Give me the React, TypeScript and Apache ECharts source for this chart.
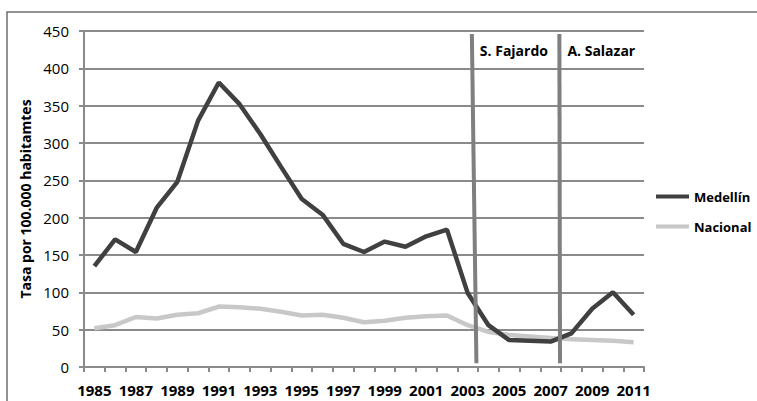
import React, { useEffect, useRef } from "react";
import * as echarts from "echarts";

const years = [
  "1985","1986","1987","1988","1989","1990","1991","1992","1993","1994",
  "1995","1996","1997","1998","1999","2000","2001","2002","2003","2004",
  "2005","2006","2007","2008","2009","2010","2011",
];
const medellin = [135,171,154,213,248,330,381,352,312,268,225,204,165,154,168,161,175,184,99,56,36,35,34,45,78,100,70];
const nacional = [52,56,67,65,70,72,81,80,78,74,69,70,66,60,62,66,68,69,56,47,43,41,39,37,36,35,33];
const yTicks = [0, 50, 100, 150, 200, 250, 300, 350, 400, 450];

// Start of mayoral terms (fractional year position on the time axis), line drawn from top to bottom
const terms = [
  { label: "S. Fajardo", yearTop: 2003.2, yearBottom: 2003.42, valueTop: 446, valueBottom: 5 },
  { label: "A. Salazar", yearTop: 2007.42, yearBottom: 2007.45, valueTop: 446, valueBottom: 5 },
];

const FONT = "'Open Sans', sans-serif";
const GRID = "#8a8a8a";

export default function App() {
  const ref = useRef<HTMLDivElement>(null);
  useEffect(() => {
    if (!ref.current) return;
    const chart = echarts.init(ref.current, undefined, { renderer: "svg" });
    const toV = (y: number) => y - Number(years[0]) + 0.5;
    const option: any = {
      animation: false,
      backgroundColor: "#ffffff",
      textStyle: { fontFamily: FONT },
      grid: { left: 84, right: 113, top: 31, bottom: 34, containLabel: false },
      legend: {
        orient: "vertical",
        left: 651,
        top: 185,
        icon: "rect",
        itemWidth: 33,
        itemHeight: 4,
        itemGap: 17,
        data: ["Medellín", "Nacional"],
        textStyle: { fontFamily: FONT, fontWeight: "bold", fontSize: 13, color: "#000" },
      },
      xAxis: [
        {
          type: "category",
          data: years,
          boundaryGap: true,
          axisLine: { lineStyle: { color: GRID, width: 2 } },
          axisTick: { show: true, interval: 0, length: 5, lineStyle: { color: GRID, width: 2 } },
          axisLabel: {
            interval: 1,
            margin: 15,
            fontFamily: FONT,
            fontWeight: "bold",
            fontSize: 15,
            color: "#000",
          },
          splitLine: { show: false },
        },
        {
          type: "value",
          min: 0,
          max: years.length,
          show: false,
        },
      ],
      yAxis: {
        type: "value",
        min: 0,
        max: 450,
        interval: 50,
        name: "Tasa por 100.000 habitamtes",
        nameLocation: "middle",
        nameGap: 48,
        nameRotate: 90,
        nameTextStyle: { fontFamily: FONT, fontWeight: "bold", fontSize: 14, color: "#000" },
        axisLine: { show: true, lineStyle: { color: GRID, width: 2 } },
        axisTick: { show: true, length: 5, lineStyle: { color: GRID, width: 2 } },
        axisLabel: {
          margin: 15,
          fontFamily: FONT,
          fontSize: 15,
          color: "#000",
          formatter: (v: number) => (yTicks.includes(v) ? String(v) : ""),
        },
        splitLine: { show: true, lineStyle: { color: GRID, width: 2 } },
      },
      series: [
        {
          name: "Medellín",
          type: "line",
          data: medellin,
          symbol: "none",
          z: 4,
          lineStyle: { color: "#404040", width: 4.5 },
          itemStyle: { color: "#404040" },
        },
        {
          name: "Nacional",
          type: "line",
          data: nacional,
          symbol: "none",
          z: 3,
          lineStyle: { color: "#c8c8c8", width: 4.5 },
          itemStyle: { color: "#c8c8c8" },
        },
        ...terms.map((t) => ({
          name: t.label,
          type: "line",
          xAxisIndex: 1,
          symbol: "none",
          z: 5,
          data: [
            [toV(t.yearTop), t.valueTop],
            [toV(t.yearBottom), t.valueBottom],
          ],
          lineStyle: { color: "#7f7f7f", width: 4 },
          silent: true,
        })),
      ],
      graphic: [
        {
          type: "rect",
          shape: { x: 7, y: 12, width: 800, height: 420 },
          style: { fill: "none", stroke: "#6f6f6f", lineWidth: 1.5 },
          silent: true,
          z: -1,
        },
      ],
    };
    chart.setOption(option);
    const labels = terms.map((t) => {
      const p = chart.convertToPixel({ xAxisIndex: 1, yAxisIndex: 0 }, [toV(t.yearTop), t.valueTop]) as number[];
      return {
        type: "text",
        x: p[0] + 8,
        y: p[1] + 17,
        style: {
          text: t.label,
          fontFamily: FONT,
          fontWeight: "bold",
          fontSize: 14,
          fill: "#000",
          verticalAlign: "middle",
        },
      };
    });
    chart.setOption({ graphic: [option.graphic[0], ...labels] });
    return () => chart.dispose();
  }, []);
  return <div ref={ref} style={{ width: 757, height: 401, position: "absolute", left: 0, top: 0 }} />;
}
